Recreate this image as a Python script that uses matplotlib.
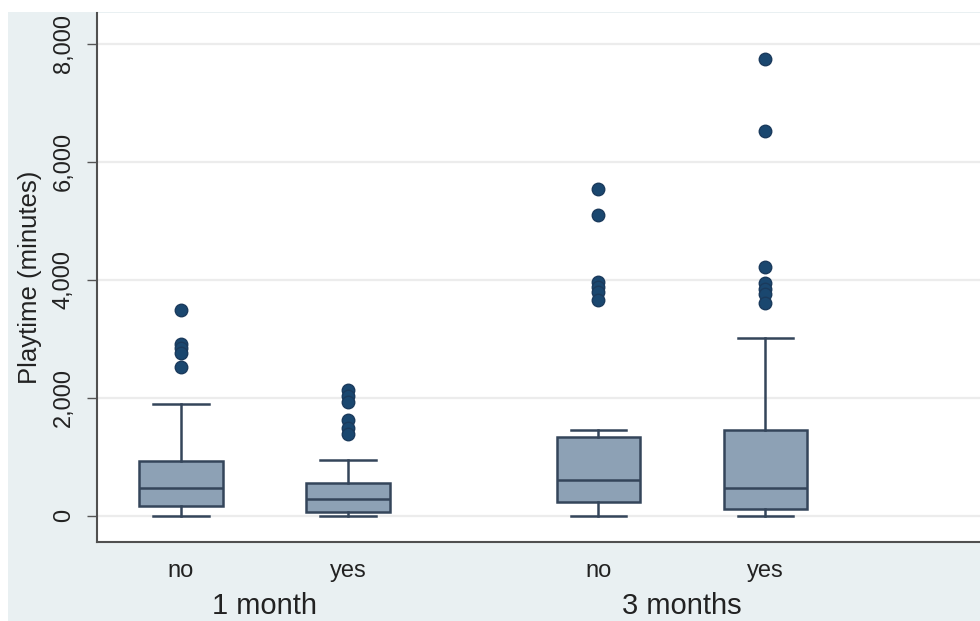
import matplotlib.pyplot as plt
from matplotlib.patches import Rectangle
from matplotlib.transforms import blended_transform_factory

# playtime summaries per group (minutes)
groups = ["1 month", "3 months"]
answers = ["no", "yes", "no", "yes"]
positions = [0, 1, 2.5, 3.5]
whislo = [0, 0, 0, 0]
q1 = [175, 63, 243, 113]
med = [470, 284, 615, 470]
q3 = [922, 555, 1337, 1461]
whishi = [1897, 951, 1449, 3019]
fliers = [
    [3480, 2920, 2840, 2760, 2530],
    [2140, 2030, 1930, 1630, 1490, 1380],
    [5535, 5090, 3970, 3880, 3800, 3650],
    [7740, 6520, 4216, 3940, 3850, 3766, 3610],
]

plt.rcParams['font.family'] = ['Liberation Sans', 'DejaVu Sans']

fig = plt.figure(figsize=(9.8, 6.21), dpi=100)
fig.patch.set_facecolor("white")
fig.add_artist(Rectangle((8 / 980, 0), 1, 1 - 12 / 621, transform=fig.transFigure,
                         facecolor="#e9f0f2", edgecolor="none", zorder=0))

ax = fig.add_axes([97 / 980, 79 / 621, 1 - 97 / 980, (542 - 13) / 621])
ax.set_facecolor("white")

stats = []
for i in range(len(positions)):
    stats.append(dict(whislo=whislo[i], q1=q1[i], med=med[i], q3=q3[i],
                      whishi=whishi[i], fliers=fliers[i]))

edge = "#34455a"
ax.bxp(stats, positions=positions, widths=0.5, capwidths=0.33, patch_artist=True,
       boxprops=dict(facecolor="#8da1b5", edgecolor=edge, linewidth=1.8),
       medianprops=dict(color=edge, linewidth=1.8),
       whiskerprops=dict(color=edge, linewidth=1.8),
       capprops=dict(color=edge, linewidth=1.8),
       flierprops=dict(marker="o", markerfacecolor="#1a476f", markeredgecolor="#1a3a5c",
                       markersize=9, linestyle="none"))

ax.set_xlim(-0.503, 4.785)
ax.set_ylim(-442, 8520)
ax.set_yticks([0, 2000, 4000, 6000, 8000])
ax.set_yticklabels(["0", "2,000", "4,000", "6,000", "8,000"])
ax.yaxis.grid(True, color="#ececec", linewidth=1.6)
ax.set_axisbelow(True)

ax.set_xticks(positions)
ax.set_xticklabels(answers)
ax.tick_params(axis="x", length=0, pad=13, labelsize=17, labelcolor="#222222")
ax.tick_params(axis="y", length=7, width=1, color="#555555", pad=9, labelsize=17,
               labelcolor="#222222", labelrotation=90)
for lbl in ax.get_yticklabels():
    lbl.set_va("center")

ax.set_ylabel("Playtime (minutes)", fontsize=18.5, color="#222222", labelpad=8)

for s in ["top", "right"]:
    ax.spines[s].set_visible(False)
for s in ["left", "bottom"]:
    ax.spines[s].set_color("#505050")
    ax.spines[s].set_linewidth(1.5)

# group captions under the tick labels
trans = blended_transform_factory(ax.transData, ax.transAxes)
for g, x in zip(groups, [0.5, 3.0]):
    ax.text(x, -0.136, g, transform=trans, ha="center", va="baseline",
            fontsize=21, color="#222222")

fig.savefig("out.png", dpi=100, facecolor=fig.get_facecolor())
